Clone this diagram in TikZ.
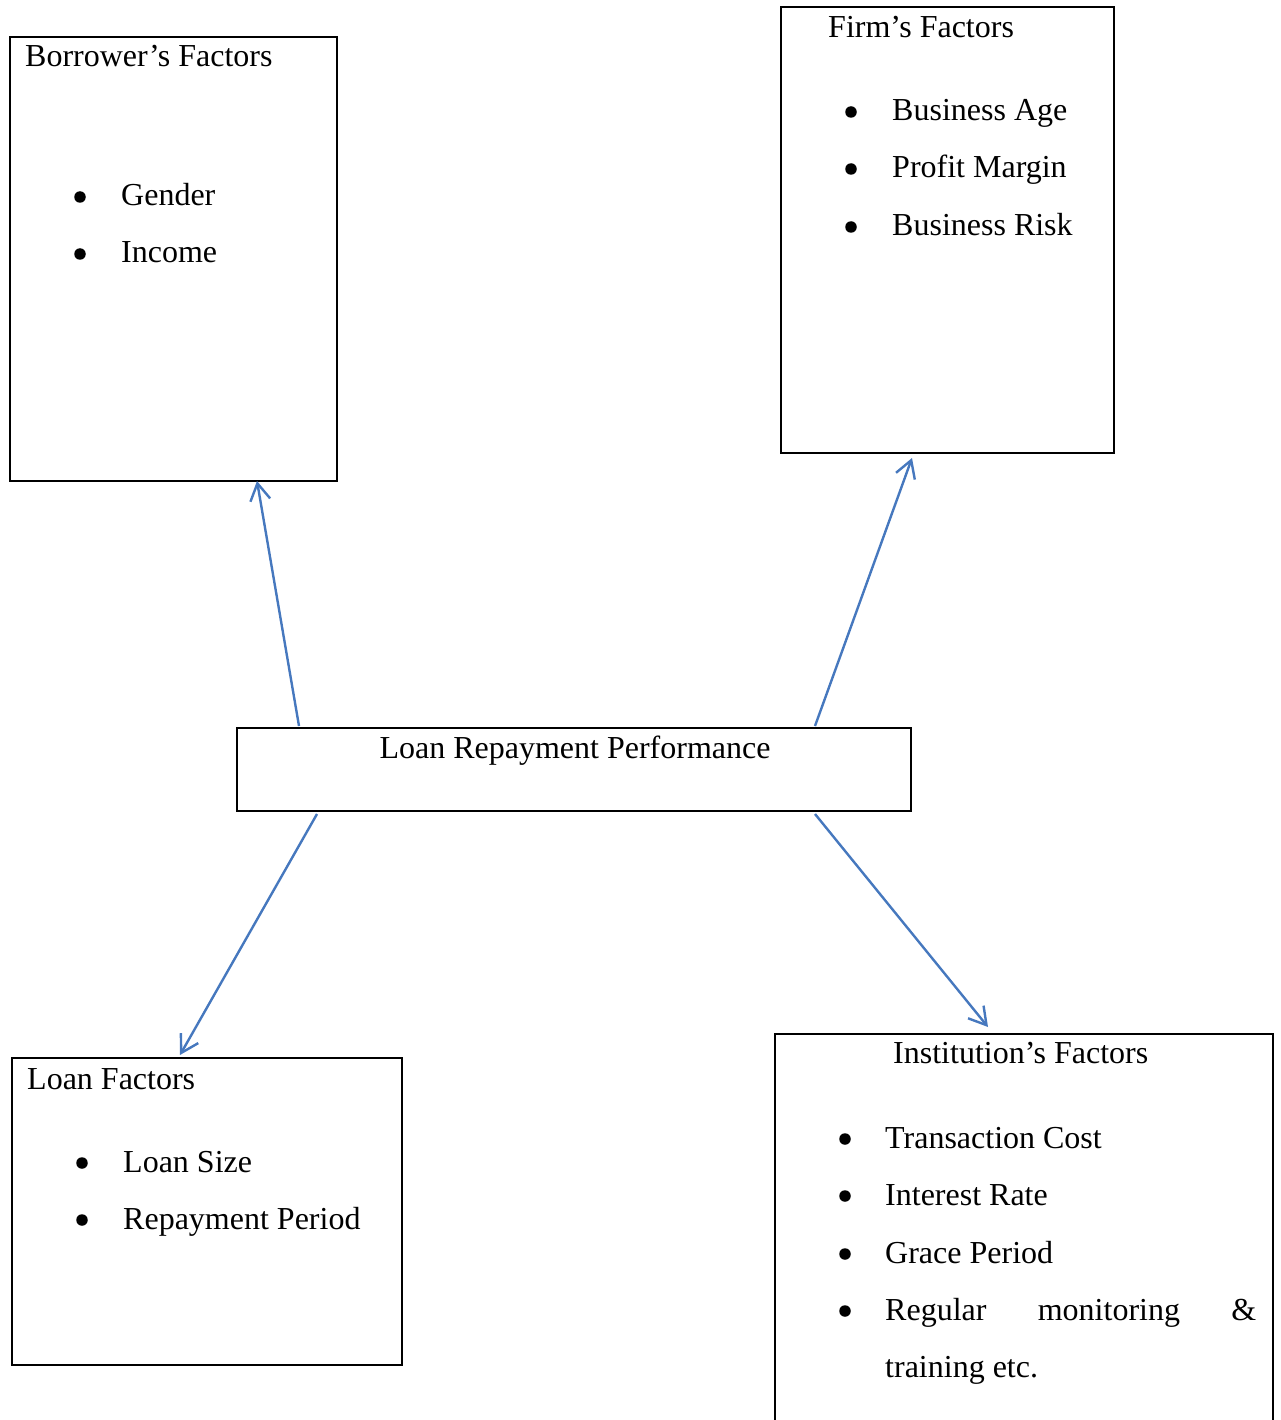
\documentclass[tikz,border=0pt]{standalone}
\usepackage{fontspec}
\setmainfont{Liberation Serif}
\usetikzlibrary{arrows.meta}
\definecolor{arrowblue}{RGB}{70,120,190}
\tikzset{
  box/.style={draw=black,line width=2.4pt,rectangle,inner sep=0pt,outer sep=0pt,anchor=north west},
  txt/.style={anchor=base west,inner sep=0pt,font=\fontsize{32}{38}\selectfont},
  ctr/.style={anchor=base,inner sep=0pt,font=\fontsize{32}{38}\selectfont},
  bul/.style={circle,fill=black,inner sep=0pt,minimum size=11.5pt},
  link/.style={draw=arrowblue,line width=2.4pt,-{Straight Barb[length=17pt,width=20pt,line width=2.4pt]}}
}
\begin{document}
\begin{tikzpicture}[x=1pt,y=-1pt]
\useasboundingbox (0,0) rectangle (1280,1420);
% boxes
\node[box,minimum width=327pt,minimum height=444pt] (borrower) at (10,37) {};
\node[box,minimum width=333pt,minimum height=446pt] (firm) at (781,7) {};
\node[box,minimum width=674pt,minimum height=83pt] (lrp) at (237,728) {};
\node[box,minimum width=390pt,minimum height=307pt] (loan) at (12,1058) {};
\draw[line width=2.4pt] (775,1440) -- (775,1034) -- (1273,1034) -- (1273,1440);
\coordinate (inst) at (775,1034);
% texts: borrower
\node[txt] (bt) at (25,67) {Borrower’s Factors};
\node[bul] (bb1) at (80,197) {};
\node[txt] (b1) at (121,206) {Gender};
\node[bul] (bb2) at (80,254) {};
\node[txt] (b2) at (121,263) {Income};
% firm
\node[txt] (ft) at (828,38) {Firm’s Factors};
\node[bul] (fb1) at (851,112) {};
\node[txt] (f1) at (892,121) {Business Age};
\node[bul] (fb2) at (851,169) {};
\node[txt] (f2) at (892,178) {Profit Margin};
\node[bul] (fb3) at (851,227) {};
\node[txt] (f3) at (892,236) {Business Risk};
% center
\node[ctr] (lt) at (575,758) {Loan Repayment Performance};
% loan
\node[txt] (loant) at (27,1089) {Loan Factors};
\node[bul] (lb1) at (82,1163) {};
\node[txt] (l1) at (123,1172) {Loan Size};
\node[bul] (lb2) at (82,1220) {};
\node[txt] (l2) at (123,1229) {Repayment Period};
% institution
\node[txt] (it) at (893,1063) {Institution’s Factors};
\node[bul] (ib1) at (845,1139) {};
\node[txt] (i1) at (885,1148) {Transaction Cost};
\node[bul] (ib2) at (845,1196) {};
\node[txt] (i2) at (885,1205) {Interest Rate};
\node[bul] (ib3) at (845,1254) {};
\node[txt] (i3) at (885,1263) {Grace Period};
\node[bul] (ib4) at (845,1311) {};
\node[txt] (i4) at (885,1320) {\hbox to 371pt{Regular\hfill monitoring\hfill\&}};
\node[txt] (i5) at (885,1377) {training etc.};
% arrow endpoints
\coordinate (a1s) at (299,726);
\coordinate (a1e) at (257,481);
\coordinate (a2s) at (815,726);
\coordinate (a2e) at (912,458);
\coordinate (a3s) at (317,814);
\coordinate (a3e) at (180,1055);
\coordinate (a4s) at (815,814);
\coordinate (a4e) at (988,1027);
\draw[link] (a1s) -- (a1e);
\draw[link] (a2s) -- (a2e);
\draw[link] (a3s) -- (a3e);
\draw[link] (a4s) -- (a4e);
\end{tikzpicture}
\end{document}
